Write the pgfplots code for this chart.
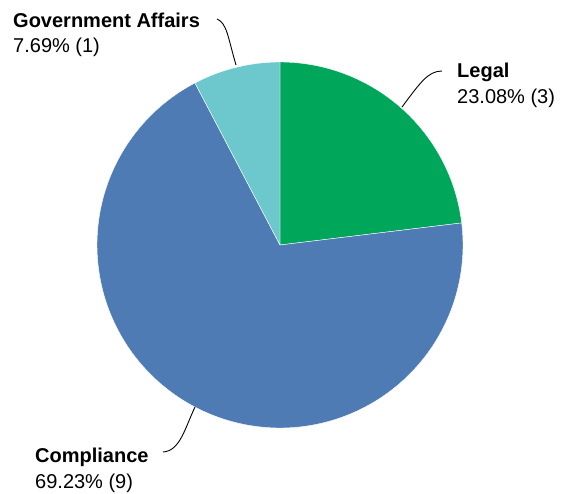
\documentclass[border=0pt]{standalone}
\usepackage{pgfplots}
\pgfplotsset{compat=1.18}
\usepackage{pgfplotstable}
\usepackage{fontspec}
\setmainfont{Liberation Sans}
\definecolor{cLegal}{HTML}{00A65A}
\definecolor{cComp}{HTML}{4F7BB5}
\definecolor{cGov}{HTML}{6DC8CE}
\pgfplotstableread{
name count
Legal 3
Compliance 9
Government 1
}\piedata
\pgfplotstablegetelem{0}{count}\of\piedata\let\nLegal\pgfplotsretval
\pgfplotstablegetelem{1}{count}\of\piedata\let\nComp\pgfplotsretval
\pgfplotstablegetelem{2}{count}\of\piedata\let\nGov\pgfplotsretval
\pgfmathsetmacro\total{\nLegal+\nComp+\nGov}
\pgfmathsetmacro\aA{90}
\pgfmathsetmacro\aB{\aA-360*\nLegal/\total}
\pgfmathsetmacro\aC{\aB-360*\nComp/\total}
\pgfmathsetmacro\aD{\aC-360*\nGov/\total}
\def\cx{280}\def\cy{248}\def\R{183}
\begin{document}
\begin{tikzpicture}
\begin{axis}[width=564pt,height=493pt,scale only axis,
  xmin=0,xmax=564,ymin=0,ymax=493,hide axis,clip=false]
\path (axis cs:0,0) rectangle (axis cs:564,493);
\addplot[fill=cLegal,draw=white,line width=0.4pt,domain=\aB:\aA,samples=90,variable=\t]
  ({\cx+\R*cos(\t)},{\cy+\R*sin(\t)}) -- (axis cs:\cx,\cy) -- cycle;
\addplot[fill=cComp,draw=white,line width=0.4pt,domain=\aC:\aB,samples=200,variable=\t]
  ({\cx+\R*cos(\t)},{\cy+\R*sin(\t)}) -- (axis cs:\cx,\cy) -- cycle;
\addplot[fill=cGov,draw=white,line width=0.4pt,domain=\aD:\aC,samples=30,variable=\t]
  ({\cx+\R*cos(\t)},{\cy+\R*sin(\t)}) -- (axis cs:\cx,\cy) -- cycle;
% leader lines
\draw[black,line width=0.9pt] (axis cs:236,428) .. controls (axis cs:228,455) and (axis cs:227,470) .. (axis cs:217,474);
\draw[black,line width=0.9pt] (axis cs:402,386) .. controls (axis cs:420,410) and (axis cs:428,422) .. (axis cs:442,422);
\draw[black,line width=0.9pt] (axis cs:195,86) .. controls (axis cs:185,65) and (axis cs:180,42) .. (axis cs:163,41);
% labels
\node[anchor=base west,inner sep=0pt,font=\fontsize{20}{24}\selectfont\bfseries] at (axis cs:13,465) {Government Affairs};
\node[anchor=base west,inner sep=0pt,font=\fontsize{20}{24}\selectfont] at (axis cs:13,440) {7.69\% (1)};
\node[anchor=base west,inner sep=0pt,font=\fontsize{20}{24}\selectfont\bfseries] at (axis cs:457,415) {Legal};
\node[anchor=base west,inner sep=0pt,font=\fontsize{20}{24}\selectfont] at (axis cs:457,389) {23.08\% (3)};
\node[anchor=base west,inner sep=0pt,font=\fontsize{20}{24}\selectfont\bfseries] at (axis cs:35,31) {Compliance};
\node[anchor=base west,inner sep=0pt,font=\fontsize{20}{24}\selectfont] at (axis cs:35,5) {69.23\% (9)};
\end{axis}
\end{tikzpicture}
\end{document}
